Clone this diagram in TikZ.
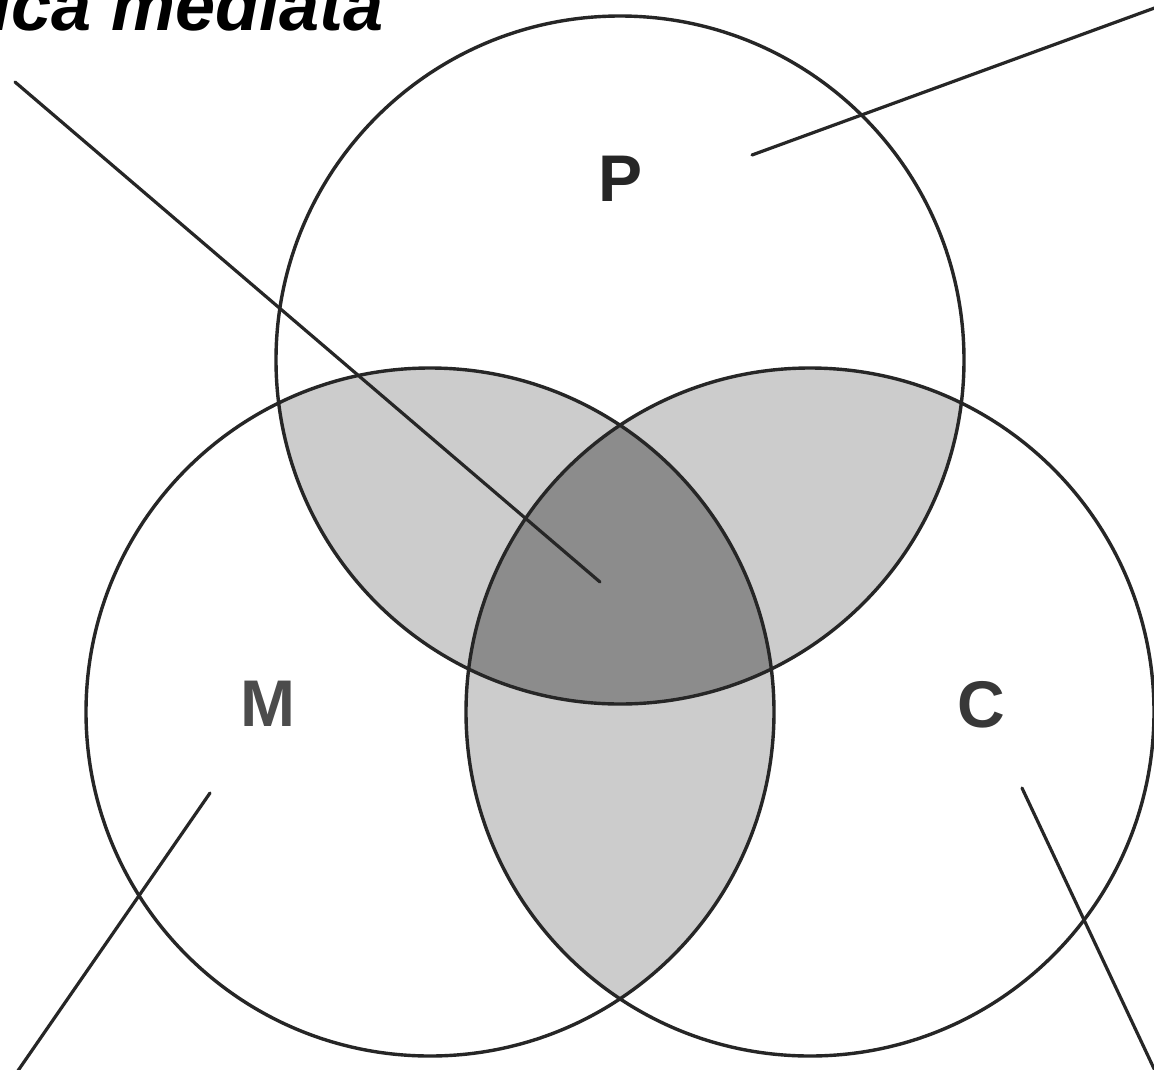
\documentclass[tikz,border=0pt]{standalone}
\usepackage{fontspec}
\setmainfont{Liberation Sans}
\begin{document}
\begin{tikzpicture}[x=1pt,y=-1pt,
  ring/.style={circle, draw=black!85, line width=3.4pt, minimum size=688pt, inner sep=0pt},
  pointer/.style={draw=black!85, line width=3.2pt, line cap=round},
  letter/.style={font=\fontsize{66}{70}\selectfont\bfseries, inner sep=0pt, anchor=center},
]
\definecolor{stip}{gray}{0.80}
\definecolor{core}{gray}{0.55}
\useasboundingbox (0,0) rectangle (1154,1069);
\fill[white] (0,0) rectangle (1154,1069);
% pairwise overlaps
\begin{scope}
  \clip (620,360) circle (344pt);
  \fill[stip] (430,712) circle (344pt);
  \fill[stip] (810,712) circle (344pt);
\end{scope}
\begin{scope}
  \clip (430,712) circle (344pt);
  \fill[stip] (810,712) circle (344pt);
\end{scope}
% triple overlap
\begin{scope}
  \clip (620,360) circle (344pt);
  \clip (430,712) circle (344pt);
  \fill[core] (810,712) circle (344pt);
\end{scope}
% circles
\node[ring] (P) at (620,360) {};
\node[ring] (M) at (430,712) {};
\node[ring] (C) at (810,712) {};
% letters
\node[letter, text=black!85] (Pl) at (621,179) {P};
\node[letter, text=black!70] (Ml) at (268,704) {M};
\node[letter, text=black!78] (Cl) at (981,705) {C};
% title (cut off at the top edge, as in the reference)
\node[anchor=base east, inner sep=0pt, font=\fontsize{72}{80}\selectfont\bfseries\itshape] (title) at (384,30) {ica mediata};
% pointers
\coordinate (a1) at (15,82);
\coordinate (a2) at (600,582);
\coordinate (b1) at (752,155);
\coordinate (b2) at (1160,6);
\coordinate (c1) at (210,793);
\coordinate (c2) at (15,1075);
\coordinate (d1) at (1022,788);
\coordinate (d2) at (1157,1075);
\draw[pointer] (a1) -- (a2);
\draw[pointer] (b1) -- (b2);
\draw[pointer] (c1) -- (c2);
\draw[pointer] (d1) -- (d2);
\end{tikzpicture}
\end{document}
